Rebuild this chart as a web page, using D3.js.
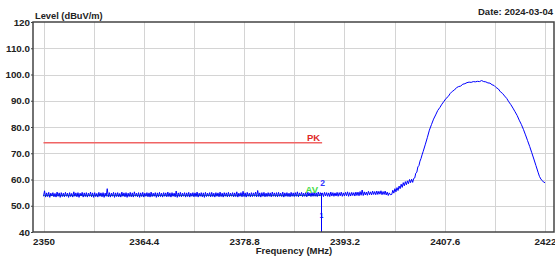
<!DOCTYPE html>
<html lang="en">
<head>
<meta charset="UTF-8">
<title>Level vs Frequency</title>
<script src="https://d3js.org/d3.v7.min.js"></script>
<style>
    body { margin: 0; background: #fff; font-family: "Liberation Sans", Arial, sans-serif; }
    text { font-weight: bold; }
</style>
</head>
<body>
<div id="chart"></div>
<script>
// sweep 2350 MHz onwards, 0.15 MHz per sample (noise floor part)
const sweepStart = 2350;
const sweepStep = 0.15;
const noiseLevels = [
    53.6, 55.7, 53.3, 54.9, 53.5, 55.1, 53.2, 54.8, 53.7, 55.0, 53.4, 54.7, 53.3, 55.2, 53.6, 54.9, 53.2, 55.0, 53.5, 54.8,
    53.4, 55.1, 53.6, 54.8, 53.2, 55.0, 53.5, 54.7, 53.3, 55.3, 53.6, 54.9, 53.4, 55.0, 53.2, 54.8, 53.7, 55.1, 53.3, 54.9,
    53.5, 55.0, 53.3, 54.8, 53.6, 55.2, 53.4, 54.9, 53.2, 55.0, 53.5, 54.7, 53.3, 55.1, 53.6, 54.9, 53.4, 55.0, 53.2, 54.8,
    53.6, 56.5, 53.4, 55.0, 53.3, 54.8, 53.6, 55.1, 53.2, 54.9, 53.5, 55.0, 53.4, 54.7, 53.3, 55.2, 53.6, 54.9, 53.4, 55.0,
    53.2, 54.8, 53.5, 55.1, 53.4, 54.9, 53.3, 55.3, 53.6, 54.8, 53.4, 55.0, 53.2, 54.9, 53.5, 55.1, 53.3, 54.8, 53.6, 55.0,
    53.4, 54.9, 53.3, 55.2, 53.5, 54.8, 53.6, 55.0, 53.2, 54.9, 53.4, 55.1, 53.5, 54.8, 53.3, 55.0, 53.6, 54.9, 53.4, 55.2,
    53.5, 54.9, 53.3, 55.0, 53.6, 54.8, 53.4, 55.6, 53.2, 54.9, 53.5, 55.1, 53.4, 54.8, 53.6, 55.0, 53.3, 54.9, 53.5, 55.1,
    53.3, 54.8, 53.6, 55.0, 53.4, 54.9, 53.5, 55.2, 53.3, 54.8, 53.6, 55.0, 53.4, 54.9, 53.2, 55.1, 53.5, 54.8, 53.6, 55.0,
    53.4, 55.1, 53.5, 54.8, 53.3, 55.0, 53.6, 54.9, 53.4, 55.2, 53.5, 54.8, 53.3, 55.0, 53.6, 54.9, 53.4, 55.1, 53.5, 54.8,
    53.6, 55.0, 53.4, 54.9, 53.5, 55.3, 53.3, 54.8, 53.6, 55.0, 53.4, 55.5, 53.5, 54.9, 53.3, 55.1, 53.6, 54.8, 53.4, 55.0,
    53.5, 54.9, 53.6, 55.2, 53.4, 55.8, 53.5, 54.9, 53.3, 55.0, 53.6, 55.1, 53.4, 54.8, 53.5, 55.0, 53.6, 54.9, 53.4, 55.2,
    53.6, 54.9, 53.5, 55.0, 53.4, 55.1, 53.6, 54.8, 53.5, 55.2, 53.3, 54.9, 53.6, 55.0, 53.5, 54.8, 53.4, 55.1, 53.6, 54.9,
    53.5, 55.0, 53.6, 55.3, 53.4, 54.9, 53.7, 55.1, 53.5, 54.8, 53.6, 55.0, 53.4, 55.2, 53.7, 54.9, 53.5, 55.0, 53.6, 55.1,
    53.6, 54.9, 53.5, 55.2, 53.7, 55.0, 53.6, 54.9, 53.5, 55.1, 53.7, 55.0, 53.6, 54.9, 53.5, 55.2, 53.7, 55.0, 53.6, 54.9,
    53.7, 55.1, 53.6, 55.0, 53.8, 55.2, 53.6, 54.9, 53.7, 55.1, 53.8, 55.3, 53.6, 55.0, 53.7, 55.1, 53.9, 55.0, 53.7, 55.2,
    53.9, 55.2, 53.8, 55.4, 54.0, 56.0, 53.9, 55.3, 54.1, 55.2, 54.0, 55.5, 54.2, 55.3, 54.1, 55.6, 54.3, 55.4, 54.2, 55.6,
    54.3, 55.5, 54.4, 55.7, 54.2, 55.4, 54.3, 55.6, 54.1, 55.2, 53.9, 54.9, 54.2
];

// carrier hump
const peakFreqs = [
    2400.0, 2400.15, 2400.3, 2400.45, 2400.6, 2400.75, 2400.9, 2401.05, 2401.2, 2401.35,
    2401.5, 2401.65, 2401.8, 2401.95, 2402.1, 2402.25, 2402.4, 2402.55, 2402.7, 2402.85,
    2403.0, 2403.15, 2403.3, 2403.45, 2403.6, 2403.75, 2403.9, 2404.05, 2404.2, 2404.35,
    2404.5, 2404.8, 2405.1, 2405.4, 2405.7, 2406.0, 2406.3, 2406.6, 2406.9, 2407.2,
    2407.5, 2407.8, 2408.1, 2408.4, 2408.7, 2409.0, 2409.3, 2409.6, 2409.9, 2410.2,
    2410.5, 2410.8, 2411.1, 2411.4, 2411.7, 2412.0, 2412.3, 2412.6, 2412.9, 2413.2,
    2413.5, 2413.8, 2414.1, 2414.4, 2414.7, 2415.0, 2415.3, 2415.6, 2415.9, 2416.2,
    2416.5, 2416.8, 2417.1, 2417.4, 2417.7, 2418.0, 2418.3, 2418.6, 2418.9, 2419.2,
    2419.5, 2419.8, 2420.1, 2420.4, 2420.7, 2421.0, 2421.2, 2421.4, 2421.6, 2421.8,
    2422.0];
const peakLevels = [
    54.3, 55.9, 54.8, 56.5, 55.3, 56.9, 55.8, 57.5, 56.5, 58.2,
    57.0, 58.8, 57.6, 59.2, 58.0, 59.5, 58.4, 60.0, 58.8, 60.1,
    58.9, 60.4, 60.6, 62.4, 62.8, 64.8, 65.3, 67.0, 68.0, 69.4,
    70.6, 73.2, 75.9, 78.8, 80.9, 83.0, 84.6, 86.3, 87.4, 88.7,
    89.8, 90.9, 91.6, 92.8, 93.6, 94.1, 95.0, 95.4, 95.6, 96.3,
    96.5, 96.9, 97.1, 97.0, 97.3, 97.2, 97.4, 97.3, 97.7, 97.3,
    97.2, 96.8, 96.7, 96.1, 95.8, 95.0, 94.5, 93.4, 92.8, 91.8,
    90.9, 89.6, 88.5, 87.2, 85.8, 84.4, 82.6, 81.0, 79.1, 77.0,
    74.8, 72.6, 70.2, 67.8, 65.3, 62.8, 61.2, 60.2, 59.6, 59.0,
    58.8];

const xTicks = [2350, 2364.4, 2378.8, 2393.2, 2407.6, 2422];
const xTickLabels = ["2350", "2364.4", "2378.8", "2393.2", "2407.6", "2422"];
const xGrid = [2350, 2357.2, 2364.4, 2371.6, 2378.8, 2386, 2393.2, 2400.4, 2407.6, 2414.8, 2422];
const yTicks = [120, 110, 100, 90, 80, 70, 60, 50, 40];
const yTickLabels = ["120", "110.0", "100.0", "90.0", "80.0", "70.0", "60.0", "50.0", "40"];

const limitPK = 74, limitAV = 54, limitEnd = 2390;
const markerFreq = 2390;

const W = 555, H = 260;
const frame = { left: 33, right: 554, top: 22, bottom: 232 };

const x = d3.scaleLinear().domain([2350, 2422]).range([43.5, 545]);
const y = d3.scaleLinear().domain([40, 120]).range([frame.bottom, frame.top]);

const svg = d3.select("#chart").append("svg")
    .attr("width", W).attr("height", H);

// grid
svg.append("g").selectAll("line").data(xGrid).join("line")
    .attr("x1", d => Math.round(x(d)) + 0.5).attr("x2", d => Math.round(x(d)) + 0.5)
    .attr("y1", frame.top).attr("y2", frame.bottom)
    .attr("stroke", "#d4d4d4").attr("stroke-width", 1);
svg.append("g").selectAll("line").data(yTicks.filter(v => v > 40 && v < 120)).join("line")
    .attr("x1", frame.left).attr("x2", frame.right)
    .attr("y1", d => Math.round(y(d)) + 0.5).attr("y2", d => Math.round(y(d)) + 0.5)
    .attr("stroke", "#d4d4d4").attr("stroke-width", 1);

// limit lines
svg.append("line")
    .attr("x1", x(2350)).attr("x2", x(limitEnd))
    .attr("y1", y(limitPK)).attr("y2", y(limitPK))
    .attr("stroke", "#f06464").attr("stroke-width", 1.4);
svg.append("line")
    .attr("x1", x(2350)).attr("x2", x(limitEnd))
    .attr("y1", Math.round(y(limitAV)) + 0.5).attr("y2", Math.round(y(limitAV)) + 0.5)
    .attr("stroke", "#40d040").attr("stroke-width", 1);

// trace
const trace = noiseLevels.map((v, i) => [sweepStart + i * sweepStep, v])
    .concat(peakFreqs.map((f, i) => [f, peakLevels[i]]));
svg.append("path")
    .datum(trace)
    .attr("fill", "none")
    .attr("stroke", "#0000ff")
    .attr("stroke-width", 1)
    .attr("d", d3.line().x(d => x(d[0])).y(d => y(d[1])));

// marker
const mx = Math.round(x(markerFreq)) - 0.5;
svg.append("line")
    .attr("x1", mx).attr("x2", mx)
    .attr("y1", y(54.8)).attr("y2", frame.bottom)
    .attr("stroke", "#0000ff").attr("stroke-width", 1);
svg.append("text").attr("x", mx + 1).attr("y", 186)
    .attr("text-anchor", "middle").attr("font-size", 8.5).attr("fill", "#3333ff").text("2");
svg.append("text").attr("x", mx).attr("y", 218)
    .attr("text-anchor", "middle").attr("font-size", 7).attr("fill", "#0000ff").text("1");

// limit labels
svg.append("text").attr("x", x(limitEnd) - 2).attr("y", 140.5)
    .attr("text-anchor", "end").attr("font-size", 9.5).attr("fill", "#e02828").text("PK");
svg.append("text").attr("x", x(limitEnd) - 4).attr("y", 192.5)
    .attr("text-anchor", "end").attr("font-size", 9.5).attr("fill", "#44dd44").text("AV");

// frame
svg.append("rect")
    .attr("x", frame.left).attr("y", frame.top)
    .attr("width", frame.right - frame.left).attr("height", frame.bottom - frame.top)
    .attr("fill", "none").attr("stroke", "#444").attr("stroke-width", 1.5);

// axes
const yAxis = svg.append("g")
    .attr("transform", `translate(${frame.left},0)`)
    .call(d3.axisLeft(y).tickValues(yTicks).tickSize(2).tickPadding(1)
        .tickFormat((d, i) => yTickLabels[i]));
yAxis.select(".domain").remove();
yAxis.selectAll("text").attr("font-size", 9.8).attr("fill", "#222")
    .attr("font-family", "'Liberation Sans', Arial, sans-serif");
yAxis.selectAll("line").attr("stroke", "#444");

const xAxis = svg.append("g")
    .attr("transform", `translate(0,${frame.bottom})`)
    .call(d3.axisBottom(x).tickValues(xTicks).tickSize(0).tickPadding(6)
        .tickFormat((d, i) => xTickLabels[i]));
xAxis.select(".domain").remove();
xAxis.selectAll("text").attr("font-size", 9.8).attr("fill", "#222")
    .attr("font-family", "'Liberation Sans', Arial, sans-serif");

// titles
svg.append("text").attr("x", 35).attr("y", 18.5)
    .attr("font-size", 9.3).attr("fill", "#222").text("Level (dBuV/m)");
svg.append("text").attr("x", 553).attr("y", 15)
    .attr("text-anchor", "end").attr("font-size", 9.5).attr("fill", "#222").text("Date: 2024-03-04");
svg.append("text").attr("x", 294).attr("y", 253.5)
    .attr("text-anchor", "middle").attr("font-size", 9.5).attr("fill", "#222").text("Frequency (MHz)");
</script>
</body>
</html>
